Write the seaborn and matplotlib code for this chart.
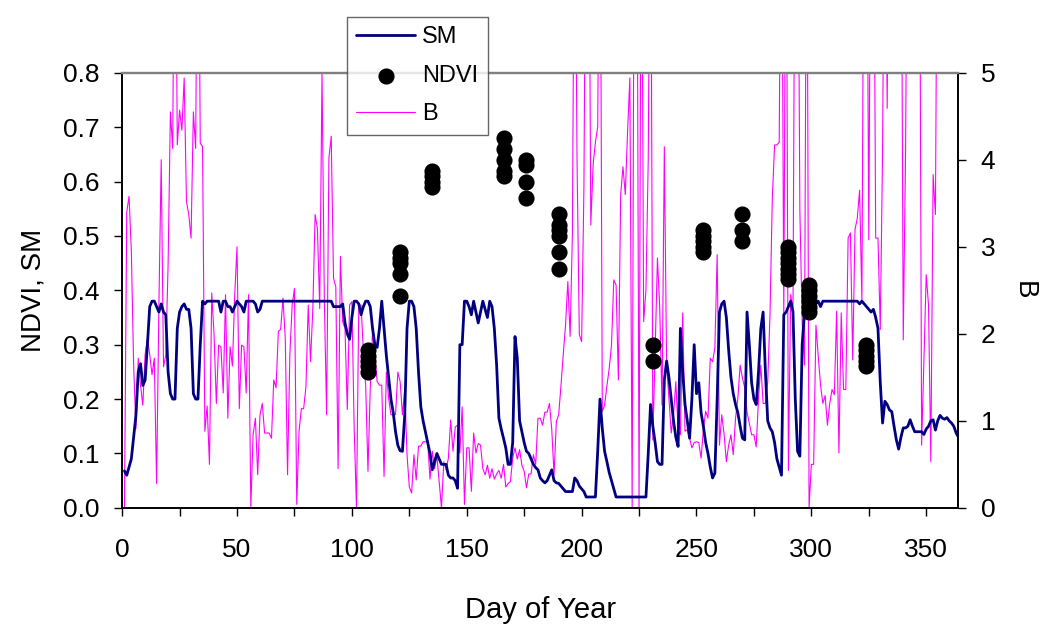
import numpy as np
import pandas as pd
import seaborn as sns
import matplotlib.pyplot as plt
from matplotlib.ticker import MultipleLocator

# --- data ---
# soil moisture, one value per day (day 1 .. 364)
sm_values = [
    0.068, 0.06, 0.075, 0.09, 0.13, 0.17, 0.25, 0.265, 0.225, 0.235,
    0.30, 0.37, 0.38, 0.38, 0.37, 0.36, 0.375, 0.36, 0.355, 0.25,
    0.21, 0.20, 0.20, 0.33, 0.36, 0.37, 0.375, 0.365, 0.365, 0.33,
    0.21, 0.20, 0.20, 0.30, 0.38, 0.375, 0.38, 0.38, 0.38, 0.38,
    0.38, 0.38, 0.36, 0.38, 0.38, 0.37, 0.37, 0.36, 0.37, 0.38,
    0.375, 0.37, 0.36, 0.38, 0.38, 0.38, 0.38, 0.375, 0.36, 0.365,
    0.38, 0.38, 0.38, 0.38, 0.38, 0.38, 0.38, 0.38, 0.38, 0.38,
    0.38, 0.38, 0.38, 0.38, 0.38, 0.38, 0.38, 0.38, 0.38, 0.38,
    0.38, 0.38, 0.38, 0.38, 0.38, 0.38, 0.38, 0.38, 0.38, 0.38,
    0.38, 0.37, 0.37, 0.37, 0.37, 0.375, 0.34, 0.32, 0.31, 0.35,
    0.38, 0.38, 0.375, 0.355, 0.37, 0.38, 0.38, 0.37, 0.33, 0.30,
    0.295, 0.33, 0.38, 0.33, 0.28, 0.24, 0.20, 0.175, 0.14, 0.115,
    0.105, 0.104, 0.17, 0.33, 0.38, 0.38, 0.37, 0.33, 0.25, 0.186,
    0.16, 0.14, 0.12, 0.10, 0.07, 0.085, 0.10, 0.09, 0.08, 0.08,
    0.08, 0.06, 0.055, 0.055, 0.05, 0.036, 0.30, 0.30, 0.38, 0.38,
    0.37, 0.355, 0.38, 0.36, 0.34, 0.36, 0.38, 0.365, 0.35, 0.38,
    0.37, 0.33, 0.263, 0.165, 0.145, 0.128, 0.11, 0.08, 0.08, 0.12,
    0.315, 0.275, 0.16, 0.14, 0.12, 0.104, 0.10, 0.09, 0.08, 0.074,
    0.07, 0.055, 0.05, 0.046, 0.05, 0.06, 0.07, 0.05, 0.046, 0.045,
    0.04, 0.035, 0.03, 0.03, 0.03, 0.03, 0.055, 0.05, 0.04, 0.035,
    0.03, 0.02, 0.02, 0.02, 0.02, 0.02, 0.104, 0.20, 0.146, 0.104,
    0.085, 0.065, 0.05, 0.035, 0.02, 0.02, 0.02, 0.02, 0.02, 0.02,
    0.02, 0.02, 0.02, 0.02, 0.02, 0.02, 0.02, 0.02, 0.10, 0.19,
    0.15, 0.12, 0.085, 0.08, 0.08, 0.235, 0.27, 0.24, 0.20, 0.16,
    0.13, 0.113, 0.33, 0.25, 0.19, 0.16, 0.128, 0.20, 0.30, 0.21,
    0.23, 0.175, 0.15, 0.12, 0.10, 0.075, 0.055, 0.064, 0.20, 0.36,
    0.375, 0.38, 0.35, 0.29, 0.24, 0.21, 0.19, 0.175, 0.15, 0.128,
    0.125, 0.36, 0.30, 0.23, 0.20, 0.19, 0.25, 0.33, 0.36, 0.25,
    0.16, 0.147, 0.14, 0.12, 0.09, 0.075, 0.06, 0.355, 0.36, 0.37,
    0.38, 0.36, 0.20, 0.104, 0.095, 0.30, 0.36, 0.36, 0.37, 0.375,
    0.37, 0.375, 0.38, 0.37, 0.38, 0.38, 0.38, 0.38, 0.38, 0.38,
    0.38, 0.38, 0.38, 0.38, 0.38, 0.38, 0.38, 0.38, 0.38, 0.38,
    0.375, 0.38, 0.375, 0.37, 0.365, 0.36, 0.365, 0.35, 0.33, 0.23,
    0.156, 0.196, 0.19, 0.18, 0.177, 0.15, 0.125, 0.108, 0.13, 0.147,
    0.147, 0.15, 0.162, 0.15, 0.14, 0.14, 0.14, 0.14, 0.135, 0.145,
    0.15, 0.16, 0.162, 0.143, 0.16, 0.17, 0.165, 0.163, 0.166, 0.16,
    0.156, 0.15, 0.138, 0.13,
]

# B, one value per day (day 1 .. 355); values above 5 run off the top
b_values = [
    0.0, 3.4, 3.58, 2.95, 1.64, 0.91, 1.72, 1.41, 1.18, 1.76,
    1.95, 1.76, 1.53, 1.72, 0.28, 2.33, 4.0, 1.62, 1.76, 2.79,
    4.55, 4.13, 8.0, 4.17, 4.57, 4.34, 4.94, 3.52, 3.37, 3.1,
    4.55, 4.13, 8.0, 4.19, 4.15, 0.88, 1.17, 0.5, 2.47, 1.99,
    1.2, 1.87, 1.85, 1.32, 2.45, 1.03, 1.85, 1.63, 2.45, 3.0,
    1.14, 1.87, 1.85, 1.32, 2.45, 0.0, 0.84, 1.03, 0.38, 1.07,
    1.2, 0.86, 0.86, 0.86, 0.8, 1.47, 1.38, 2.03, 2.05, 2.41,
    1.95, 0.38, 1.76, 2.33, 2.52, 0.04, 0.88, 1.14, 1.14, 1.39,
    2.33, 1.68, 2.29, 3.37, 3.21, 2.29, 5.0, 2.41, 1.07, 4.02,
    4.27, 2.64, 2.54, 0.45, 2.89, 2.14, 2.06, 1.13, 2.33, 2.37,
    0.91, 0.0, 2.33, 2.33, 1.8, 1.41, 0.42, 1.38, 2.03, 1.76,
    1.45, 1.41, 1.41, 0.36, 1.56, 1.26, 1.07, 1.07, 1.07, 1.56,
    1.45, 1.07, 1.36, 0.61, 0.24, 0.17, 0.61, 0.32, 0.71, 0.71,
    0.76, 0.76, 0.76, 0.33, 0.65, 0.45, 0.6, 0.3, 0.0, 0.53,
    0.44, 0.57, 1.01, 0.65, 0.93, 0.95, 0.63, 1.16, 0.04, 0.69,
    0.69, 0.19, 0.86, 0.63, 0.74, 0.72, 0.45, 0.38, 0.49, 0.34,
    0.45, 0.33, 0.39, 0.43, 0.34, 0.5, 0.24, 0.28, 0.3, 0.57,
    0.69, 0.56, 0.67, 0.49, 0.42, 0.23, 0.39, 0.39, 0.61, 0.5,
    1.03, 1.03, 0.95, 1.1, 1.1, 1.2, 0.9, 0.38, 0.99, 1.07,
    1.4, 1.76, 2.1, 2.6, 1.97, 3.17, 8.0, 4.0, 1.99, 1.91,
    3.67, 8.0, 8.0, 3.25, 3.94, 4.2, 4.38, 8.0, 1.11, 1.18,
    1.4, 1.6, 1.87, 2.62, 2.56, 1.47, 3.6, 3.92, 3.6, 4.32,
    4.94, 0.0, 8.0, 8.0, 0.0, 8.0, 2.14, 2.5, 4.0, 8.0,
    0.78, 1.8, 2.87, 2.3, 1.18, 4.15, 1.64, 1.26, 0.86, 1.07,
    1.45, 0.88, 0.84, 2.24, 0.88, 0.9, 0.8, 0.69, 0.75, 0.76,
    0.75, 0.57, 0.9, 1.11, 1.03, 1.72, 1.68, 1.84, 2.91, 0.72,
    1.07, 0.85, 0.53, 0.72, 0.84, 0.61, 1.03, 1.26, 1.64, 1.49,
    1.38, 1.1, 0.97, 0.84, 0.84, 0.7, 1.26, 1.64, 1.2, 1.2,
    1.45, 2.22, 3.56, 4.17, 4.17, 4.2, 8.0, 2.18, 8.0, 0.43,
    2.45, 2.26, 8.0, 8.0, 3.41, 2.14, 1.64, 8.0, 0.0, 0.5,
    0.5, 2.1, 1.74, 1.41, 1.2, 1.29, 0.95, 1.2, 1.36, 1.3,
    2.26, 0.63, 2.24, 1.36, 1.36, 3.1, 3.16, 1.7, 3.2, 3.33,
    3.65, 2.37, 8.0, 8.0, 3.08, 8.0, 8.0, 3.1, 3.1, 2.05,
    4.1, 8.0, 4.59, 8.0, 8.0, 8.0, 8.0, 8.0, 8.0, 1.93,
    4.08, 8.0, 8.0, 8.0, 8.0, 8.0, 8.0, 0.72, 1.72, 2.68,
    2.33, 0.53, 3.83, 3.37, 8.0,
]

# NDVI observations (several per acquisition day)
ndvi_days = [107, 107, 107, 107, 107,
             121, 121, 121, 121, 121,
             135, 135, 135, 135,
             166, 166, 166, 166, 166,
             176, 176, 176, 176,
             190, 190, 190, 190, 190, 190,
             231, 231,
             253, 253, 253, 253, 253,
             270, 270, 270,
             290, 290, 290, 290, 290, 290, 290,
             299, 299, 299, 299, 299, 299,
             324, 324, 324, 324, 324]
ndvi_values = [0.29, 0.28, 0.27, 0.26, 0.25,
               0.47, 0.46, 0.45, 0.43, 0.39,
               0.62, 0.61, 0.60, 0.59,
               0.68, 0.66, 0.64, 0.62, 0.61,
               0.64, 0.63, 0.60, 0.57,
               0.54, 0.52, 0.51, 0.50, 0.47, 0.44,
               0.30, 0.27,
               0.51, 0.50, 0.49, 0.48, 0.47,
               0.54, 0.51, 0.49,
               0.48, 0.47, 0.46, 0.45, 0.44, 0.43, 0.42,
               0.41, 0.40, 0.39, 0.38, 0.37, 0.36,
               0.30, 0.29, 0.28, 0.27, 0.26]

sm_df = pd.DataFrame({"day": np.arange(1, len(sm_values) + 1), "SM": sm_values})
b_df = pd.DataFrame({"day": np.arange(1, len(b_values) + 1), "B": b_values})
ndvi_df = pd.DataFrame({"day": ndvi_days, "NDVI": ndvi_values})

# --- style ---
sns.set_theme(style="white")
plt.rcParams["font.family"] = ["Liberation Sans", "DejaVu Sans"]
plt.rcParams["text.color"] = "black"
plt.rcParams["axes.labelcolor"] = "black"
plt.rcParams["xtick.color"] = "black"
plt.rcParams["ytick.color"] = "black"

fig = plt.figure(figsize=(10.44, 6.27), dpi=100)
ax = fig.add_axes([0.117, 0.19, 0.801, 0.694])
ax2 = ax.twinx()

# B on the secondary axis, drawn underneath
sns.lineplot(data=b_df, x="day", y="B", ax=ax2, color="#FF00FF", lw=0.8, label="B", legend=False)
sns.lineplot(data=sm_df, x="day", y="SM", ax=ax, color="#000080", lw=2.0, label="SM", legend=False)
sns.scatterplot(data=ndvi_df, x="day", y="NDVI", ax=ax, color="black", s=135,
                edgecolor="black", linewidth=0, label="NDVI", legend=False, zorder=5)

ax.set_zorder(ax2.get_zorder() + 1)
ax.patch.set_visible(False)

ax.set_xlim(0, 364)
ax.set_ylim(0, 0.8)
ax2.set_ylim(0, 5)

ax.xaxis.set_major_locator(MultipleLocator(50))
ax.xaxis.set_minor_locator(MultipleLocator(25))
ax2.yaxis.set_major_locator(MultipleLocator(1))
ax.set_yticks(np.arange(0, 0.81, 0.1))
ax.set_yticklabels([f"{v:.1f}" for v in np.arange(0, 0.81, 0.1)])

tick_kw = dict(direction="out", length=6, width=1.0, color="black", labelcolor="black", labelsize=19)
ax.tick_params(axis="x", which="both", bottom=True, pad=16, **tick_kw)
ax.tick_params(axis="y", left=True, pad=10, **tick_kw)
ax2.tick_params(axis="y", right=True, pad=10, **tick_kw)

ax.set_xlabel("Day of Year", fontsize=21, labelpad=24, color="black")
ax.set_ylabel("NDVI, SM", fontsize=20, labelpad=12, color="black")
ax2.set_ylabel("B", fontsize=20, rotation=270, labelpad=30, color="black")

for a in (ax, ax2):
    for side in ("left", "right", "bottom"):
        a.spines[side].set_color("black")
        a.spines[side].set_linewidth(1.2)
    a.spines["top"].set_color("#808080")
    a.spines["top"].set_linewidth(1.6)

# legend collected from both axes, sitting above the plot like the original
h1, l1 = ax.get_legend_handles_labels()
h2, l2 = ax2.get_legend_handles_labels()
leg = fig.legend(h1 + h2, l1 + l2, loc="upper left", bbox_to_anchor=(0.332, 0.973),
                 fontsize=17, frameon=True, fancybox=False, edgecolor="#404040",
                 handlelength=2.5, handletextpad=0.3, borderpad=0.4, labelspacing=0.7,
                 borderaxespad=0, markerscale=1.0)
leg.get_frame().set_linewidth(1.0)
leg.set_zorder(10)

fig.savefig("out.png", dpi=100, facecolor="white")
